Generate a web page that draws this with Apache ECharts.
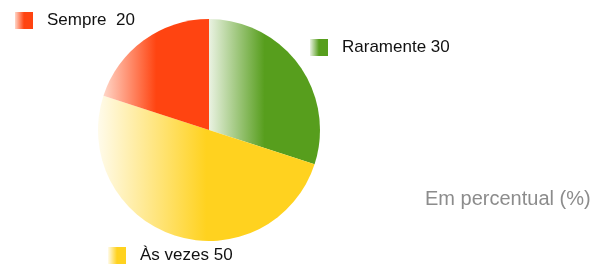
<!DOCTYPE html>
<html>
<head>
<meta charset="utf-8">
<script src="https://cdn.jsdelivr.net/npm/echarts@6/dist/echarts.min.js"></script>
<style>
  html, body { margin: 0; padding: 0; background: #fff; }
  #chart { width: 594px; height: 265px; }
</style>
</head>
<body>
<div id="chart"></div>
<script>
const categories = ['Raramente', 'Às vezes', 'Sempre'];
const values = [30, 50, 20];
const baseColors = ['#579e1d', '#ffd21f', '#ff4411'];
const paleColors = ['#eaf2e2', '#fffbeb', '#ffd6c8'];
const fontFamily = 'Liberation Sans, Arial, sans-serif';

const chart = echarts.init(document.getElementById('chart'));

// gradient from pale (left) to full colour (middle onwards)
const fade = (i) => new echarts.graphic.LinearGradient(0, 0, 1, 0, [
  { offset: 0, color: paleColors[i] },
  { offset: 0.5, color: baseColors[i] },
  { offset: 1, color: baseColors[i] },
]);

const pieData = categories.map((name, i) => ({
  name,
  value: values[i],
  itemStyle: { color: fade(i) },
}));

const legendFor = (name, pos) => ({
  data: [name],
  orient: 'horizontal',
  left: pos.left,
  top: pos.top,
  icon: 'rect',
  itemWidth: 18,
  itemHeight: 17,
  itemGap: 0,
  padding: 0,
  selectedMode: false,
  textStyle: { fontFamily, fontSize: 17, color: '#111', padding: [0, 0, 0, 9] },
  formatter: (n) => {
    const v = values[categories.indexOf(n)];
    return n === 'Sempre' ? `${n}  ${v}` : `${n} ${v}`;
  },
});

chart.setOption({
  animation: false,
  title: {
    text: 'Em percentual (%)',
    left: 425,
    top: 189,
    padding: 0,
    textStyle: { fontFamily, fontSize: 20, fontWeight: 'normal', color: '#8c8c8c' },
  },
  legend: [
    legendFor('Sempre', { left: 15, top: 12 }),
    legendFor('Raramente', { left: 310, top: 39 }),
    legendFor('Às vezes', { left: 108, top: 247 }),
  ],
  series: [
    {
      type: 'pie',
      center: [209, 130],
      radius: 111,
      startAngle: 90,
      clockwise: true,
      label: { show: false },
      labelLine: { show: false },
      emphasis: { disabled: true },
      itemStyle: { borderWidth: 0 },
      data: pieData,
    },
  ],
});
</script>
</body>
</html>
